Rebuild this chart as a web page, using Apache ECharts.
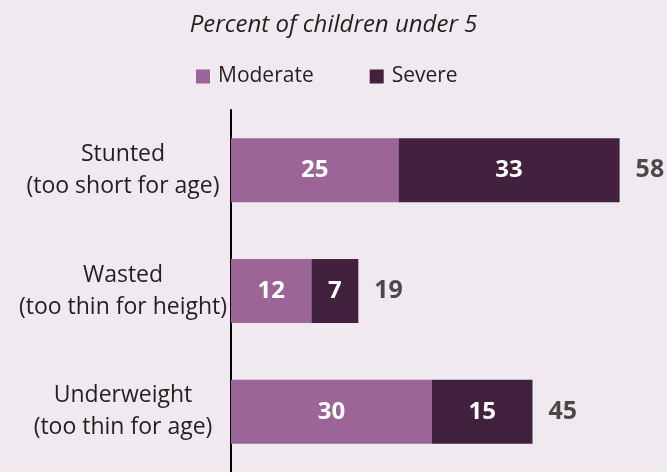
<!DOCTYPE html>
<html>
<head>
<meta charset="utf-8">
<script src="https://cdn.jsdelivr.net/npm/echarts@6/dist/echarts.min.js"></script>
<style>
html,body{margin:0;padding:0;background:#f0e9f0;}
#c{width:667px;height:472px;}
</style>
</head>
<body>
<div id="c"></div>
<script>
const categories = ['Stunted\n(too short for age)', 'Wasted\n(too thin for height)', 'Underweight\n(too thin for age)'];
const moderate = [25, 12, 30];
const severe = [33, 7, 15];
const totals = [58, 19, 45];

const chart = echarts.init(document.getElementById('c'));
const FONT = '"Open Sans", sans-serif';
chart.setOption({
  backgroundColor: '#f0e9f0',
  animation: false,
  title: {
    text: 'Percent of children under 5',
    left: 'center',
    top: 8,
    textStyle: { fontFamily: FONT, fontStyle: 'italic', fontWeight: 'normal', fontSize: 24, color: '#231f20' }
  },
  legend: {
    left: 196,
    top: 66,
    padding: 0,
    itemWidth: 14,
    itemHeight: 14,
    itemGap: 56,
    icon: 'rect',
    textStyle: { fontFamily: FONT, fontSize: 21, color: '#231f20', padding: [0, 0, 0, 3] },
    data: ['Moderate', 'Severe']
  },
  grid: { left: 231, right: 34, top: 110, bottom: 0, containLabel: false },
  xAxis: { type: 'value', min: 0, max: 60, show: false },
  yAxis: {
    type: 'category',
    inverse: true,
    data: categories,
    axisLine: { show: true, lineStyle: { color: '#000', width: 2 } },
    axisTick: { show: false },
    axisLabel: {
      fontFamily: FONT, fontSize: 23, color: '#231f20', lineHeight: 32,
      align: 'center', margin: 108
    }
  },
  series: [
    {
      name: 'Moderate', type: 'bar', stack: 't', barWidth: 64,
      itemStyle: { color: '#9b6597' },
      label: { show: true, position: 'inside', color: '#fff', fontFamily: FONT, fontWeight: 'bold', fontSize: 24 },
      data: moderate
    },
    {
      name: 'Severe', type: 'bar', stack: 't', barWidth: 64,
      itemStyle: { color: '#42213f' },
      label: { show: true, position: 'inside', color: '#fff', fontFamily: FONT, fontWeight: 'bold', fontSize: 24 },
      data: severe
    },
    {
      name: 'Total', type: 'scatter', symbolSize: 0,
      label: { show: true, position: 'right', distance: 16, color: '#231f20', fontFamily: FONT, fontWeight: 'bold', fontSize: 25, formatter: p => p.value[0] },
      data: totals.map((v, i) => [v, categories[i]]),
      silent: true
    }
  ]
});
</script>
</body>
</html>
